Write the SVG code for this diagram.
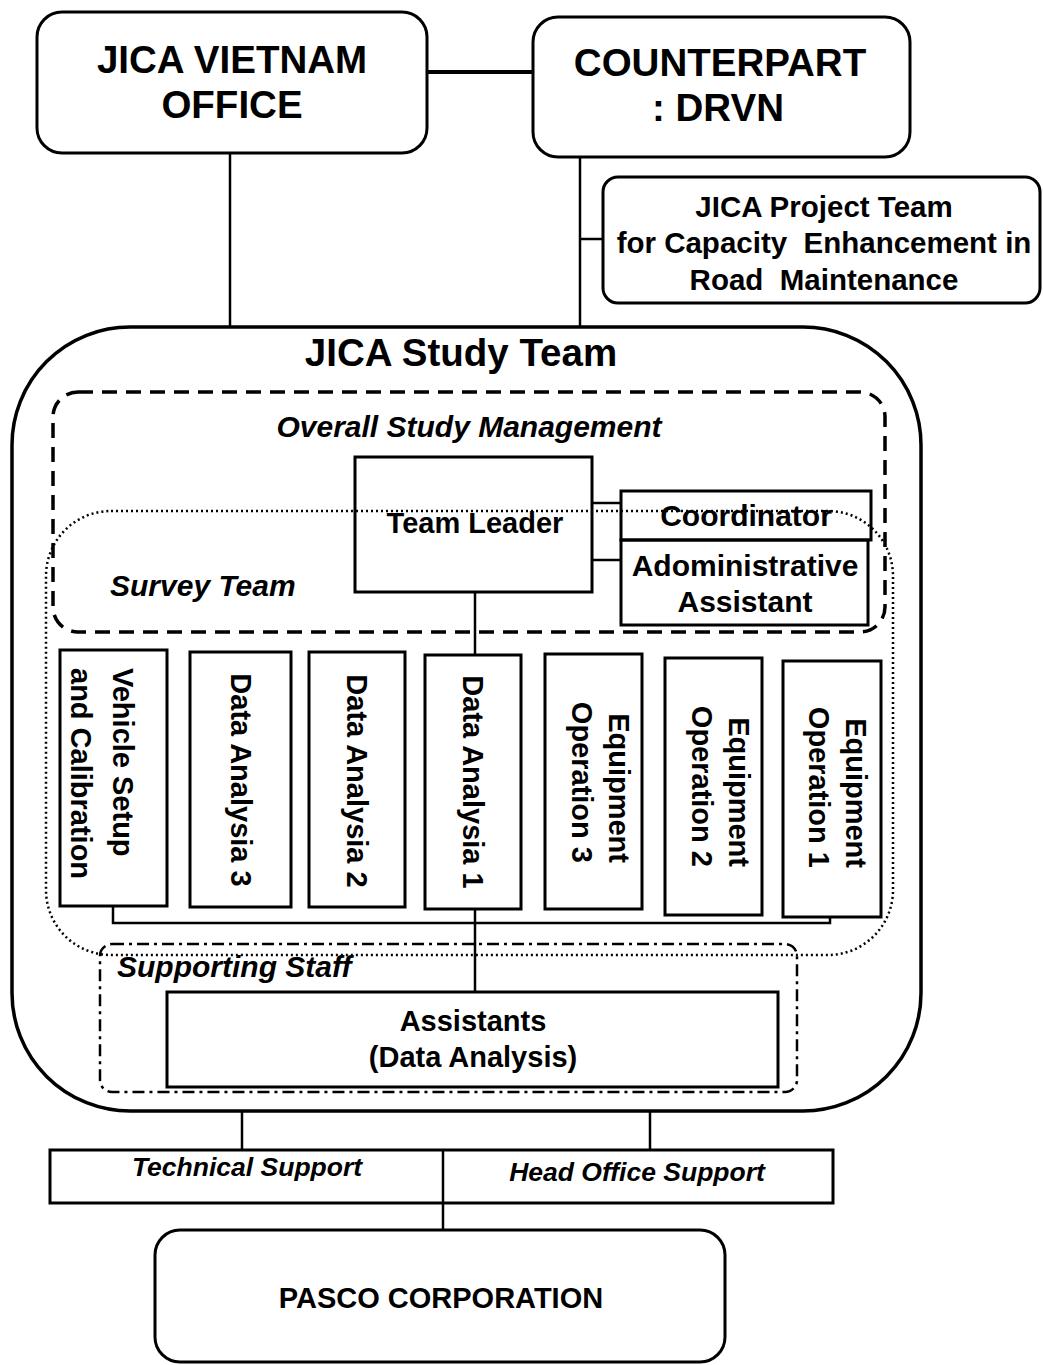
<svg xmlns="http://www.w3.org/2000/svg" width="1043" height="1365" viewBox="0 0 1043 1365">
<style>
.box{fill:none;stroke:#000;stroke-width:3}
.big{fill:none;stroke:#000;stroke-width:3.5}
.ln{fill:none;stroke:#000;stroke-width:2.5}
.dash{fill:none;stroke:#000;stroke-width:3.5;stroke-dasharray:15 9}
.dot{fill:none;stroke:#000;stroke-width:2.5;stroke-dasharray:2 3}
.dd{fill:none;stroke:#000;stroke-width:2.5;stroke-dasharray:12 5 3 5}
text{font-family:"Liberation Sans",Arial,sans-serif;font-weight:bold;fill:#000}
.t38{font-size:38.5px;text-anchor:middle}
.t29{font-size:29px;text-anchor:middle}
.t30{font-size:30px;text-anchor:middle}
.t28{font-size:29.5px;text-anchor:middle;white-space:pre}
.it{font-style:italic}
.v{font-size:29px}
.ve{font-size:29px;text-anchor:end}
</style>
<rect width="1043" height="1365" fill="#fff"/>
<g id="connectors">
<line class="ln" x1="427" y1="72" x2="533" y2="72" style="stroke-width:4"/>
<line class="ln" x1="230" y1="153" x2="230" y2="326"/>
<line class="ln" x1="580" y1="157" x2="580" y2="328"/>
<line class="ln" x1="580" y1="239" x2="603" y2="239"/>
<line class="ln" x1="592" y1="503" x2="621" y2="503"/>
<line class="ln" x1="592" y1="560" x2="621" y2="560"/>
<line class="ln" x1="475" y1="592" x2="475" y2="655"/>
<line class="ln" x1="475" y1="909" x2="475" y2="993"/>
<path class="ln" d="M113 906 V923 H830 V917"/>
<line class="ln" x1="242" y1="1110" x2="242" y2="1150"/>
<line class="ln" x1="650" y1="1112" x2="650" y2="1151"/>
<line class="ln" x1="443" y1="1150" x2="443" y2="1230"/>
</g>
<g id="jica-vietnam">
<rect class="box" x="37" y="12" width="390" height="141" rx="25"/>
<text class="t38" x="232" y="73">JICA VIETNAM</text>
<text class="t38" x="232" y="118">OFFICE</text>
</g>
<g id="counterpart">
<rect class="box" x="533" y="17" width="377" height="140" rx="25"/>
<text class="t38" x="720" y="76">COUNTERPART</text>
<text class="t38" x="718" y="121">: DRVN</text>
</g>
<g id="project-team">
<rect class="box" x="603" y="177" width="437" height="126" rx="15"/>
<text class="t28" x="824" y="217">JICA Project Team</text>
<text class="t28" x="824" y="253">for Capacity  Enhancement in</text>
<text class="t28" x="824" y="290">Road  Maintenance</text>
</g>
<g id="study-team">
<rect class="big" x="12" y="327" width="909" height="784" rx="118"/>
<text class="t38" x="461" y="366">JICA Study Team</text>
</g>
<g id="overall-management">
<rect class="dash" x="53" y="392" width="832" height="240" rx="25"/>
<text class="t30 it" x="469" y="437">Overall Study Management</text>
</g>
<g id="survey-team">
<rect class="dot" x="46" y="511" width="847" height="444" rx="65"/>
<text class="it" x="110" y="596" style="font-size:30px">Survey Team</text>
</g>
<g id="team-leader">
<rect class="box" x="355" y="457" width="237" height="135"/>
<text class="t29" x="475" y="533">Team Leader</text>
</g>
<g id="coordinator">
<rect class="box" x="621" y="491" width="250" height="49"/>
<text class="t30" x="746" y="526">Coordinator</text>
</g>
<g id="admin-assistant">
<rect class="box" x="621" y="540" width="247" height="85"/>
<text class="t30" x="745" y="576">Adoministrative</text>
<text class="t30" x="745" y="612">Assistant</text>
</g>
<g id="vehicle-setup">
<rect class="box" x="60" y="650" width="107" height="256"/>
<text class="v" transform="rotate(90)" x="668" y="-112.5">Vehicle Setup</text>
<text class="v" transform="rotate(90)" x="668" y="-70.5">and Calibration</text>
</g>
<g id="data-analysia-3">
<rect class="box" x="190" y="652" width="101" height="255"/>
<text class="t29" transform="rotate(90)" x="780" y="-231">Data Analysia 3</text>
</g>
<g id="data-analysia-2">
<rect class="box" x="309" y="652" width="96" height="255"/>
<text class="t29" transform="rotate(90)" x="781" y="-346.5">Data Analysia 2</text>
</g>
<g id="data-analysia-1">
<rect class="box" x="425" y="655" width="96" height="254"/>
<text class="t29" transform="rotate(90)" x="782" y="-463">Data Analysia 1</text>
</g>
<g id="equipment-3">
<rect class="box" x="545" y="654" width="97" height="255"/>
<text class="ve" transform="rotate(90)" x="863" y="-608.5">Equipment</text>
<text class="ve" transform="rotate(90)" x="863" y="-571.5">Operation 3</text>
</g>
<g id="equipment-2">
<rect class="box" x="665" y="658" width="97" height="257"/>
<text class="ve" transform="rotate(90)" x="867" y="-728.5">Equipment</text>
<text class="ve" transform="rotate(90)" x="867" y="-691.5">Operation 2</text>
</g>
<g id="equipment-1">
<rect class="box" x="783" y="661" width="98" height="256"/>
<text class="ve" transform="rotate(90)" x="868" y="-845.5">Equipment</text>
<text class="ve" transform="rotate(90)" x="868" y="-808.5">Operation 1</text>
</g>
<g id="supporting-staff">
<rect class="dd" x="100" y="944" width="697" height="148" rx="12"/>
<text class="it" x="117" y="977" style="font-size:30px">Supporting Staff</text>
</g>
<g id="assistants">
<rect class="box" x="167" y="992" width="611" height="95"/>
<text class="t29" x="473" y="1031">Assistants</text>
<text class="t29" x="473" y="1067">(Data Analysis)</text>
</g>
<g id="support">
<rect class="box" x="50" y="1150" width="783" height="53"/>
<text class="it" x="247" y="1176" style="font-size:26.5px;text-anchor:middle">Technical Support</text>
<text class="it" x="637" y="1181" style="font-size:26.5px;text-anchor:middle">Head Office Support</text>
</g>
<g id="pasco">
<rect class="box" x="155" y="1230" width="570" height="132" rx="25"/>
<text class="t29" x="441" y="1308">PASCO CORPORATION</text>
</g>
</svg>
